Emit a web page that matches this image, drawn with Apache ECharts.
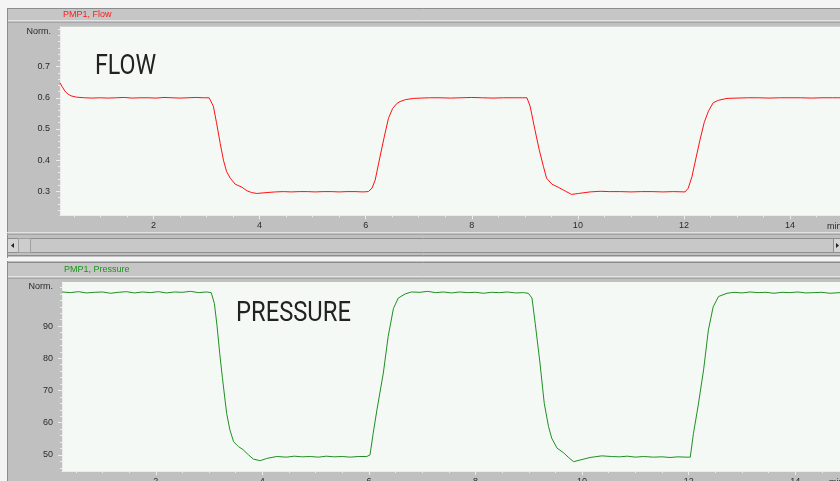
<!DOCTYPE html>
<html>
<head>
<meta charset="utf-8">
<script src="https://cdn.jsdelivr.net/npm/echarts@6/dist/echarts.min.js"></script>
<style>html,body{margin:0;padding:0;background:#f4f4f4}#c{width:840px;height:481px}</style>
</head>
<body>
<div id="c"></div>
<script>
// ---- data (time in min, normalised values) ----
const flowTime = [0.24,0.28,0.33,0.38,0.45,0.55,0.70,0.85,1.00,1.15,1.30,1.45,1.60,1.75,1.90,2.05,2.20,2.35,2.50,2.65,2.80,2.95,3.05,
  3.13,3.19,3.26,3.32,3.38,3.45,3.54,3.67,3.76,3.85,3.95,4.14,4.30,4.45,4.60,4.75,4.90,5.05,5.20,5.35,5.50,5.65,5.80,5.95,6.05,
  6.12,6.18,6.27,6.35,6.43,6.51,6.59,6.65,6.75,6.90,7.05,7.20,7.40,7.60,7.80,8.00,8.20,8.40,8.60,8.80,8.95,9.04,
  9.10,9.19,9.27,9.35,9.41,9.51,9.63,9.76,9.88,10.01,10.23,10.42,10.60,10.80,11.00,11.20,11.40,11.60,11.80,12.02,
  12.08,12.15,12.23,12.30,12.38,12.46,12.55,12.65,12.81,13.00,13.20,13.40,13.60,13.80,14.00,14.20,14.40,14.60,14.80,14.94];
const flowValue = [0.648,0.636,0.622,0.613,0.606,0.602,0.600,0.599,0.600,0.599,0.600,0.601,0.599,0.600,0.600,0.599,0.601,0.600,0.599,0.600,0.601,0.600,0.600,
  0.573,0.520,0.453,0.400,0.363,0.342,0.323,0.313,0.302,0.296,0.293,0.296,0.298,0.299,0.298,0.299,0.299,0.298,0.299,0.299,0.298,0.299,0.299,0.298,0.299,
  0.310,0.336,0.410,0.474,0.534,0.566,0.582,0.588,0.594,0.598,0.599,0.600,0.600,0.599,0.600,0.601,0.600,0.599,0.600,0.600,0.600,0.600,
  0.573,0.498,0.434,0.380,0.342,0.323,0.313,0.301,0.290,0.293,0.298,0.300,0.299,0.299,0.298,0.299,0.299,0.298,0.299,0.298,
  0.310,0.347,0.410,0.464,0.520,0.557,0.584,0.592,0.598,0.599,0.600,0.600,0.599,0.600,0.600,0.600,0.599,0.600,0.600,0.600];

const pressureTime = [0.24,0.40,0.55,0.70,0.85,1.00,1.15,1.30,1.45,1.60,1.75,1.90,2.05,2.20,2.35,2.50,2.65,2.80,2.95,3.04,
  3.10,3.15,3.20,3.25,3.30,3.33,3.39,3.46,3.55,3.64,3.74,3.83,3.96,4.08,4.27,4.45,4.60,4.75,4.90,5.05,5.20,5.35,5.50,5.65,5.80,5.96,
  6.02,6.08,6.15,6.27,6.36,6.46,6.55,6.68,6.80,6.96,7.10,7.25,7.40,7.55,7.70,7.85,8.00,8.15,8.30,8.45,8.60,8.75,8.90,8.99,
  9.06,9.12,9.21,9.29,9.37,9.43,9.53,9.65,9.74,9.84,9.96,10.15,10.37,10.55,10.70,10.85,11.00,11.15,11.34,11.50,11.65,11.80,11.95,12.03,
  12.09,12.18,12.28,12.37,12.46,12.56,12.72,12.85,13.00,13.15,13.30,13.45,13.60,13.75,13.90,14.05,14.20,14.35,14.50,14.65,14.84];
const pressureValue = [100.6,100.4,100.7,100.3,100.5,100.6,100.2,100.5,100.7,100.3,100.6,100.4,100.7,100.3,100.6,100.5,100.8,100.4,100.6,100.4,
  97.0,90.0,81.5,74.0,67.0,62.9,57.8,54.1,52.6,51.6,50.0,48.7,48.2,48.9,49.5,49.3,49.6,49.4,49.5,49.3,49.6,49.4,49.5,49.3,49.5,49.5,
  50.0,56.7,64.0,75.4,86.7,95.5,98.7,100.0,100.6,100.5,100.8,100.4,100.6,100.3,100.6,100.4,100.5,100.2,100.5,100.4,100.6,100.3,100.4,100.2,
  98.7,90.9,78.5,66.0,58.8,55.2,52.1,50.7,49.3,47.9,48.4,49.2,49.7,49.5,49.4,49.6,49.3,49.5,49.3,49.4,49.2,49.4,49.3,49.3,
  56.7,65.5,76.4,88.8,96.0,99.2,100.2,100.5,100.3,100.6,100.4,100.5,100.2,100.5,100.4,100.6,100.3,100.4,100.5,100.2,100.4];

// ---- tick labels / tick positions ----
const xMajorTicks = [2,4,6,8,10,12,14];
const xMinorTicks = [0.5,1,1.5,2.5,3,3.5,4.5,5,5.5,6.5,7,7.5,8.5,9,9.5,10.5,11,11.5,12.5,13,13.5,14.5];
const flowMajorTicks = [0.3,0.4,0.5,0.6,0.7];
const flowMinorTicks = [0.24,0.26,0.28,0.32,0.34,0.36,0.38,0.42,0.44,0.46,0.48,0.52,0.54,0.56,0.58,0.62,0.64,0.66,0.68,0.72,0.74,0.76,0.78,0.80,0.82];
const pressureMajorTicks = [50,60,70,80,90];
const pressureMinorTicks = [46,48,52,54,56,58,62,64,66,68,72,74,76,78,82,84,86,88,92,94,96,98,100,102];

const zip = (a, b) => a.map((v, i) => [v, b[i]]);

const FONT = '"Liberation Sans", Arial, sans-serif';
const tickCol = '#ececec';
const labelStyle = { color: '#2a2a2a', fontSize: 9, fontFamily: FONT };

function xAx(grid, min, max, major) {
  return {
    type: 'value', gridIndex: grid, min: min, max: max, position: 'bottom',
    axisLine: { show: major, onZero: false, lineStyle: { color: tickCol, width: 1 } },
    axisTick: { show: true, length: major ? 4 : 2, customValues: major ? xMajorTicks : xMinorTicks, lineStyle: { color: tickCol } },
    axisLabel: { show: major, customValues: xMajorTicks, margin: 6, ...labelStyle },
    splitLine: { show: false }
  };
}
function yAx(grid, min, max, majorTicks, minorTicks, major, margin) {
  return {
    type: 'value', gridIndex: grid, min: min, max: max, position: 'left',
    axisLine: { show: major, onZero: false, lineStyle: { color: tickCol, width: 1 } },
    axisTick: { show: true, length: major ? 4 : 2, customValues: major ? majorTicks : minorTicks, lineStyle: { color: tickCol } },
    axisLabel: { show: major, customValues: majorTicks, margin: margin, ...labelStyle },
    splitLine: { show: false }
  };
}

const chart = echarts.init(document.getElementById('c'), null, { renderer: 'canvas' });

const bg = (x, y, w, h, fill, stroke) => ({ type: 'rect', silent: true, z: -10, shape: { x, y, width: w, height: h }, style: { fill, stroke: stroke || null, lineWidth: 1 } });
const hl = (x1, x2, y, col) => ({ type: 'line', silent: true, z: -9, shape: { x1, y1: y, x2, y2: y }, style: { stroke: col, lineWidth: 1 } });
const vl = (x, y1, y2, col) => ({ type: 'line', silent: true, z: -9, shape: { x1: x, y1, x2: x, y2 }, style: { stroke: col, lineWidth: 1 } });

chart.setOption({
  animation: false,
  backgroundColor: '#f4f4f4',
  grid: [
    { left: 60, top: 26.7, width: 780, height: 188.6, show: true, backgroundColor: '#f4f9f5', borderWidth: 0, outerBoundsMode: 'none', containLabel: false },
    { left: 62, top: 282, width: 778, height: 189, show: true, backgroundColor: '#f4f9f5', borderWidth: 0, outerBoundsMode: 'none', containLabel: false }
  ],
  xAxis: [
    xAx(0, 0.24, 14.94, true), xAx(0, 0.24, 14.94, false),
    xAx(1, 0.24, 14.84, true), xAx(1, 0.24, 14.84, false)
  ],
  yAxis: [
    yAx(0, 0.223, 0.828, flowMajorTicks, flowMinorTicks, true, 10), yAx(0, 0.223, 0.828, flowMajorTicks, flowMinorTicks, false, 10),
    yAx(1, 45.0, 103.7, pressureMajorTicks, pressureMinorTicks, true, 9), yAx(1, 45.0, 103.7, pressureMajorTicks, pressureMinorTicks, false, 9)
  ],
  series: [
    { name: 'Flow', type: 'line', xAxisIndex: 0, yAxisIndex: 0, data: zip(flowTime, flowValue), showSymbol: false, symbol: 'none',
      lineStyle: { color: '#ff1010', width: 1 }, z: 3 },
    { name: 'Pressure', type: 'line', xAxisIndex: 2, yAxisIndex: 2, data: zip(pressureTime, pressureValue), showSymbol: false, symbol: 'none',
      lineStyle: { color: '#1f8f1f', width: 1 }, z: 3 }
  ],
  graphic: [
    // top panel frame
    bg(7, 8, 833, 250, '#c0c0c0'),
    bg(7, 9, 833, 11, '#c6c6c6'),
    hl(7, 840, 8.5, '#8c8c8c'),
    hl(7, 840, 20.5, '#e4e4e4'),
    hl(7, 840, 22.5, '#a8a8a8'),
    vl(7.5, 8, 258, '#8c8c8c'),
    hl(7, 840, 232.5, '#e2e2e2'),
    hl(7, 840, 234.5, '#a4a4a4'),
    // scrollbar
    bg(7.5, 238.5, 832, 14, '#c8c8c8', '#8e8e8e'),
    bg(7.5, 238.5, 11, 14, '#d4d4d4', '#8e8e8e'),
    bg(18.5, 238.5, 12, 14, '#cdcdcd', '#a0a0a0'),
    bg(833.5, 238.5, 11, 14, '#d4d4d4', '#8e8e8e'),
    { type: 'polygon', silent: true, z: -8, shape: { points: [[11, 245.5], [14, 243], [14, 248]] }, style: { fill: '#222' } },
    { type: 'polygon', silent: true, z: -8, shape: { points: [[839, 245.5], [836, 243], [836, 248]] }, style: { fill: '#222' } },
    hl(7, 840, 255.5, '#8c8c8c'),
    bg(0, 257, 840, 4, '#f4f4f4'),
    // bottom panel frame
    bg(7, 261, 833, 220, '#c0c0c0'),
    bg(7, 263, 833, 13, '#c6c6c6'),
    hl(7, 840, 262.5, '#8c8c8c'),
    hl(7, 840, 276.5, '#e4e4e4'),
    hl(7, 840, 278.5, '#a8a8a8'),
    vl(7.5, 261, 481, '#8c8c8c'),
    // panel titles
    { type: 'text', silent: true, z: 5, x: 63, y: 15, style: { text: 'PMP1, Flow', fill: '#ff1a1a', font: '9px ' + FONT, verticalAlign: 'middle' } },
    { type: 'text', silent: true, z: 5, x: 64, y: 270, style: { text: 'PMP1, Pressure', fill: '#1a951a', font: '9px ' + FONT, verticalAlign: 'middle' } },
    // axis units
    { type: 'text', silent: true, z: 5, x: 51, y: 32, style: { text: 'Norm.', fill: '#2a2a2a', font: '9px ' + FONT, align: 'right', verticalAlign: 'middle' } },
    { type: 'text', silent: true, z: 5, x: 53, y: 287, style: { text: 'Norm.', fill: '#2a2a2a', font: '9px ' + FONT, align: 'right', verticalAlign: 'middle' } },
    { type: 'text', silent: true, z: 5, x: 827, y: 222, style: { text: 'min', fill: '#2a2a2a', font: '9px ' + FONT } },
    { type: 'text', silent: true, z: 5, x: 829, y: 478, style: { text: 'min', fill: '#2a2a2a', font: '9px ' + FONT } },
    // big annotations
    { type: 'text', silent: true, z: 5, x: 95, y: 67, scaleX: 0.86, originX: 0, originY: 0,
      style: { text: 'FLOW', fill: '#222', font: '27px Roboto, sans-serif', verticalAlign: 'middle' } },
    { type: 'text', silent: true, z: 5, x: 236, y: 314, scaleX: 0.88, originX: 0, originY: 0,
      style: { text: 'PRESSURE', fill: '#222', font: '27px Roboto, sans-serif', verticalAlign: 'middle' } }
  ]
});
</script>
</body>
</html>
